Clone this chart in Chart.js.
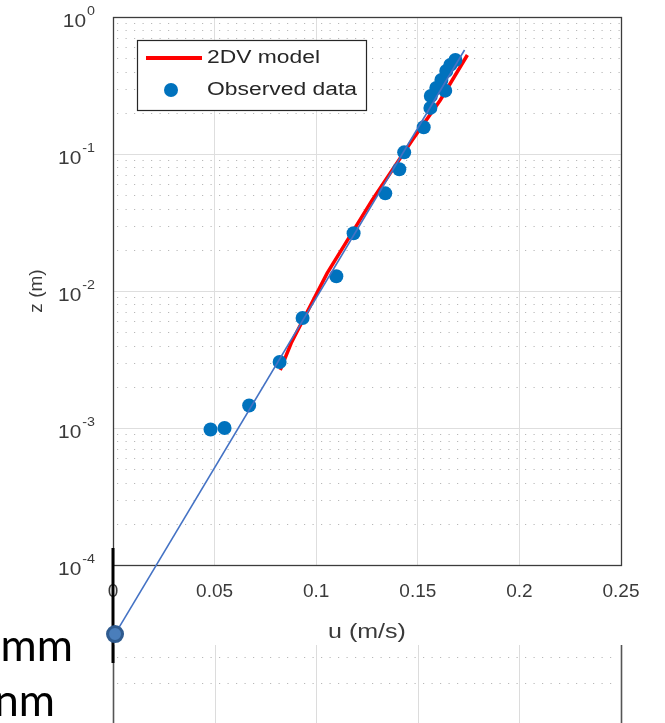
<!DOCTYPE html>
<html><head><meta charset="utf-8">
<script src="https://cdn.jsdelivr.net/npm/chart.js@4/dist/chart.umd.min.js"></script>
<style>
html,body{margin:0;padding:0;background:#fff;}
#wrap{position:relative;width:665px;height:723px;overflow:hidden;background:#fff;}
#c{position:absolute;left:0;top:0;}
.slide{position:absolute;font-family:Lato,'Open Sans',sans-serif;font-size:44px;line-height:44px;color:#000;white-space:nowrap;text-align:right;}
</style></head><body>
<div id="wrap"><canvas id="c" width="665" height="723"></canvas>
<div class="slide" style="right:592px;top:622px">mm</div>
<div class="slide" style="right:610px;top:677px">nm</div>
</div>
<script>
// ---- data ----
const obsU = [0.0480, 0.0549, 0.0670, 0.0820, 0.0933, 0.1099, 0.1184, 0.1340, 0.1409, 0.1433, 0.1529, 0.1562, 0.1564, 0.1591, 0.1635, 0.1616, 0.1640, 0.1660, 0.1685];
const obsZ = [9.75e-4, 1.0e-3, 1.46e-3, 3.03e-3, 6.35e-3, 1.28e-2, 2.64e-2, 5.16e-2, 7.73e-2, 0.1028, 0.1566, 0.217, 0.265, 0.303, 0.29, 0.347, 0.404, 0.447, 0.485];
const modelU = [0.0823, 0.0877, 0.1054, 0.1276, 0.1473, 0.1611, 0.1744];
const modelZ = [0.00265, 0.00417, 0.0135, 0.0462, 0.1265, 0.248, 0.528];
const fitU = [0.001, 0.173];
const fitZ = [3.13e-5, 0.574];
const xTicks = [0, 0.05, 0.1, 0.15, 0.2, 0.25];
const yTickExps = [-4, -3, -2, -1, 0];
const minorMult = [2, 3, 4, 5, 6, 7, 8, 9];
const seriesLabels = ['2DV model', 'Observed data'];
const axisTitles = ['u (m/s)', 'z (m)'];

const TXT = '#3a3a3a';
const FONT = 'Liberation Sans, Arial, sans-serif';

function stretchedText(ctx, txt, x, y, sx, align) {
  ctx.save();
  ctx.translate(x, y);
  ctx.scale(sx, 1);
  ctx.textAlign = align;
  ctx.fillText(txt, 0, 0);
  ctx.restore();
}

const decor = {
  id: 'decor',
  beforeDatasetsDraw(chart) {
    const {ctx, chartArea: a, scales: {x, y}} = chart;
    ctx.save();
    // minor dotted grid
    ctx.strokeStyle = '#b8b8b8'; ctx.lineWidth = 1; ctx.setLineDash([1.2, 7.3]);
    for (const e of yTickExps.slice(0, -1)) {
      for (const m of minorMult) {
        const py = Math.round(y.getPixelForValue(m * Math.pow(10, e))) + 0.5;
        ctx.beginPath(); ctx.moveTo(a.left + 4, py); ctx.lineTo(a.right, py); ctx.stroke();
      }
    }
    ctx.setLineDash([]);
    // axes box
    ctx.strokeStyle = '#3c3c3c'; ctx.lineWidth = 1.3;
    ctx.strokeRect(a.left + 0.5, a.top + 0.5, a.right - a.left, a.bottom - a.top);
    // lower partial panel (cropped neighbouring figure)
    const top2 = a.bottom + 80, H = chart.height;
    for (const v of xTicks) {
      const px = Math.round(x.getPixelForValue(v)) + 0.5;
      const edge = (v === xTicks[0] || v === xTicks[xTicks.length - 1]);
      ctx.strokeStyle = edge ? '#555' : '#dcdcdc'; ctx.lineWidth = edge ? 1.6 : 1;
      ctx.beginPath(); ctx.moveTo(px, top2); ctx.lineTo(px, H); ctx.stroke();
    }
    ctx.strokeStyle = '#b8b8b8'; ctx.lineWidth = 1; ctx.setLineDash([1.2, 7.3]);
    for (const dy of [12, 38]) {
      const py = top2 + dy + 0.5;
      ctx.beginPath(); ctx.moveTo(a.left + 4, py); ctx.lineTo(a.right - 6, py); ctx.stroke();
    }
    ctx.setLineDash([]);
    // black vertical marker line
    ctx.strokeStyle = '#000'; ctx.lineWidth = 3;
    ctx.beginPath(); ctx.moveTo(a.left, a.bottom - 17); ctx.lineTo(a.left, a.bottom + 98); ctx.stroke();
    ctx.restore();
  },
  afterDatasetsDraw(chart) {
    // end marker of the fitted line (lies outside the plot area)
    const {ctx} = chart;
    const ds = chart.data.datasets[0];
    const p = chart.getDatasetMeta(0).data[0];
    ctx.save();
    ctx.beginPath(); ctx.arc(p.x, p.y, 7.5, 0, Math.PI * 2);
    ctx.fillStyle = ds.markerFill; ctx.fill();
    ctx.lineWidth = 3; ctx.strokeStyle = ds.markerEdge; ctx.stroke();
    ctx.restore();
  },
  afterDraw(chart) {
    const {ctx, chartArea: a, scales: {y}} = chart;
    ctx.save();
    // y tick labels 10^n
    ctx.fillStyle = TXT; ctx.textBaseline = 'middle'; ctx.textAlign = 'left';
    for (const e of yTickExps) {
      const py = y.getPixelForValue(Math.pow(10, e));
      const base = '10', ex = String(e);
      ctx.font = '19px ' + FONT; const wb = ctx.measureText(base).width * 1.1;
      ctx.font = '13px ' + FONT; const we = ctx.measureText(ex).width * 1.1;
      const x0 = a.left - 19 - we - wb;
      ctx.font = '19px ' + FONT; stretchedText(ctx, base, x0, py + 5, 1.1, 'left');
      ctx.font = '13px ' + FONT; stretchedText(ctx, ex, x0 + wb + 1, py - 6, 1.1, 'left');
    }
    // y title
    ctx.save();
    ctx.translate(37, (a.top + a.bottom) / 2);
    ctx.rotate(-Math.PI / 2);
    ctx.textAlign = 'center'; ctx.textBaseline = 'middle';
    ctx.font = '19px ' + FONT; ctx.fillStyle = TXT;
    ctx.fillText(axisTitles[1], 0, 0);
    ctx.restore();
    // x title
    ctx.fillStyle = TXT; ctx.font = '20px ' + FONT; ctx.textBaseline = 'middle';
    stretchedText(ctx, axisTitles[0], (a.left + a.right) / 2, a.bottom + 67, 1.25, 'center');
    // legend
    const lx = a.left + 24, ly = a.top + 23, lw = 229, lh = 70;
    ctx.fillStyle = '#fff'; ctx.fillRect(lx, ly, lw, lh);
    ctx.strokeStyle = '#262626'; ctx.lineWidth = 1.2; ctx.strokeRect(lx + 0.5, ly + 0.5, lw, lh);
    const ds = chart.data.datasets;
    const red = ds[2], obs = ds[1];
    ctx.strokeStyle = red.borderColor; ctx.lineWidth = 4;
    ctx.beginPath(); ctx.moveTo(lx + 9, ly + 18); ctx.lineTo(lx + 65, ly + 18); ctx.stroke();
    ctx.fillStyle = obs.pointBackgroundColor;
    ctx.beginPath(); ctx.arc(lx + 34, ly + 50, 7, 0, Math.PI * 2); ctx.fill();
    ctx.fillStyle = '#262626'; ctx.font = '18px ' + FONT; ctx.textBaseline = 'middle';
    stretchedText(ctx, red.label, lx + 70, ly + 18, 1.27, 'left');
    stretchedText(ctx, obs.label, lx + 70, ly + 50, 1.27, 'left');
    ctx.restore();
  }
};

new Chart(document.getElementById('c'), {
  type: 'line',
  data: {
    datasets: [
      { label: 'fit', data: fitU.map((u, i) => ({x: u, y: fitZ[i]})),
        borderColor: '#4472c4', borderWidth: 1.6, pointRadius: 0,
        markerFill: '#4a7ebb', markerEdge: '#2f5b8f',
        clip: false, order: 0 },
      { label: seriesLabels[1], data: obsU.map((u, i) => ({x: u, y: obsZ[i]})),
        showLine: false, pointRadius: 7, pointBackgroundColor: '#0072BD', pointBorderWidth: 0, order: 1 },
      { label: seriesLabels[0], data: modelU.map((u, i) => ({x: u, y: modelZ[i]})),
        borderColor: '#ff0000', borderWidth: 3.5, pointRadius: 0, order: 2 }
    ]
  },
  options: {
    responsive: false, animation: false, devicePixelRatio: 1,
    layout: { padding: { left: 0, top: 17, right: 44, bottom: 78 } },
    plugins: { legend: { display: false }, tooltip: { enabled: false } },
    scales: {
      x: {
        type: 'linear', min: 0, max: 0.25,
        afterBuildTicks: s => { s.ticks = xTicks.map(v => ({value: v})); },
        ticks: { callback: v => String(+Number(v).toFixed(2)), font: { family: FONT, size: 19 }, color: TXT, padding: 15, maxRotation: 0, autoSkip: false },
        grid: { color: '#dedede', lineWidth: 1, drawTicks: false },
        border: { display: false },
        title: { display: false },
        afterFit: s => { s.height = 80; }
      },
      y: {
        type: 'logarithmic', min: 1e-4, max: 1,
        afterBuildTicks: s => { s.ticks = yTickExps.map(e => ({value: Math.pow(10, e), major: true})); },
        ticks: { display: false },
        grid: { color: '#dedede', lineWidth: 1, drawTicks: false },
        border: { display: false },
        afterFit: s => { s.width = 113; }
      }
    }
  },
  plugins: [decor]
});
</script>
</body></html>
